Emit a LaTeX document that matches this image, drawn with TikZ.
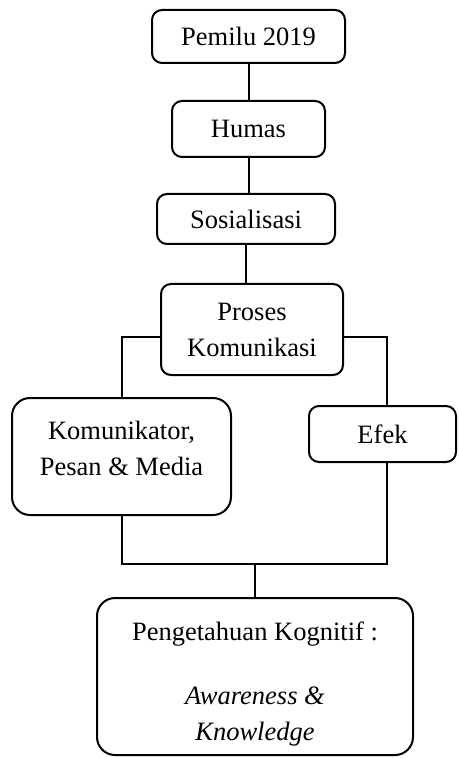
\documentclass[tikz,border=0pt]{standalone}
\usepackage{fontspec}
\setmainfont{Liberation Serif}
\usetikzlibrary{positioning}
\tikzstyle{block} = [draw, rectangle, line width=1pt, rounded corners=5pt, align=center, inner sep=2pt, font=\fontsize{13.25}{18}\selectfont]
\tikzstyle{bigblock} = [block, rounded corners=9pt]
\tikzstyle{path} = [line width=1pt]

\begin{document}
\begin{tikzpicture}[x=0.5pt, y=-0.5pt, node distance=18pt]
    \useasboundingbox (0,0) rectangle (459,758);

    % Chain.
    \node (pemilu) [block, minimum width=96.5pt, minimum height=26.5pt] at (248.5,36.5) {Pemilu 2019};
    \node (humas) [block, below=of pemilu, minimum width=76.5pt, minimum height=28pt] {Humas};
    \node (sosialisasi) [block, below=17.5pt of humas, xshift=-1.25pt, minimum width=89pt, minimum height=25pt] {Sosialisasi};
    \node (proses) [block, below=19pt of sosialisasi, xshift=3pt, minimum width=91pt, minimum height=45.5pt] {Proses\\Komunikasi};

    % Branches.
    \node (komunikator) [bigblock, minimum width=109.5pt, minimum height=58.5pt] at (121.5,456.5) {Komunikator,\\Pesan \& Media\rule[-8pt]{0pt}{0pt}};
    \node (efek) [block, minimum width=73.5pt, minimum height=28pt] at (382.5,434) {Efek};
    \node (kognitif) [bigblock, minimum width=158pt, minimum height=78.5pt] at (255,676.5) {\rule{0pt}{17pt}Pengetahuan Kognitif :\\[14pt]\textit{Awareness \&}\\\textit{Knowledge}};
    \coordinate [above=16.5pt of kognitif.north] (join);

    % Lines.
    \draw [path] (pemilu) -- (humas);
    \draw [path] (humas.south) -- (humas.south |- sosialisasi.north);
    \draw [path] (sosialisasi.south) -- (sosialisasi.south |- proses.north);
    \draw [path] ([yshift=-3.75pt]proses.west) -| (komunikator.north);
    \draw [path] ([yshift=-3.75pt]proses.east) -| ([xshift=2pt]efek.north);
    \draw [path] (komunikator.south) |- (join) -| ([xshift=2pt]efek.south);
    \draw [path] (join) -- (kognitif.north);
\end{tikzpicture}
\end{document}
